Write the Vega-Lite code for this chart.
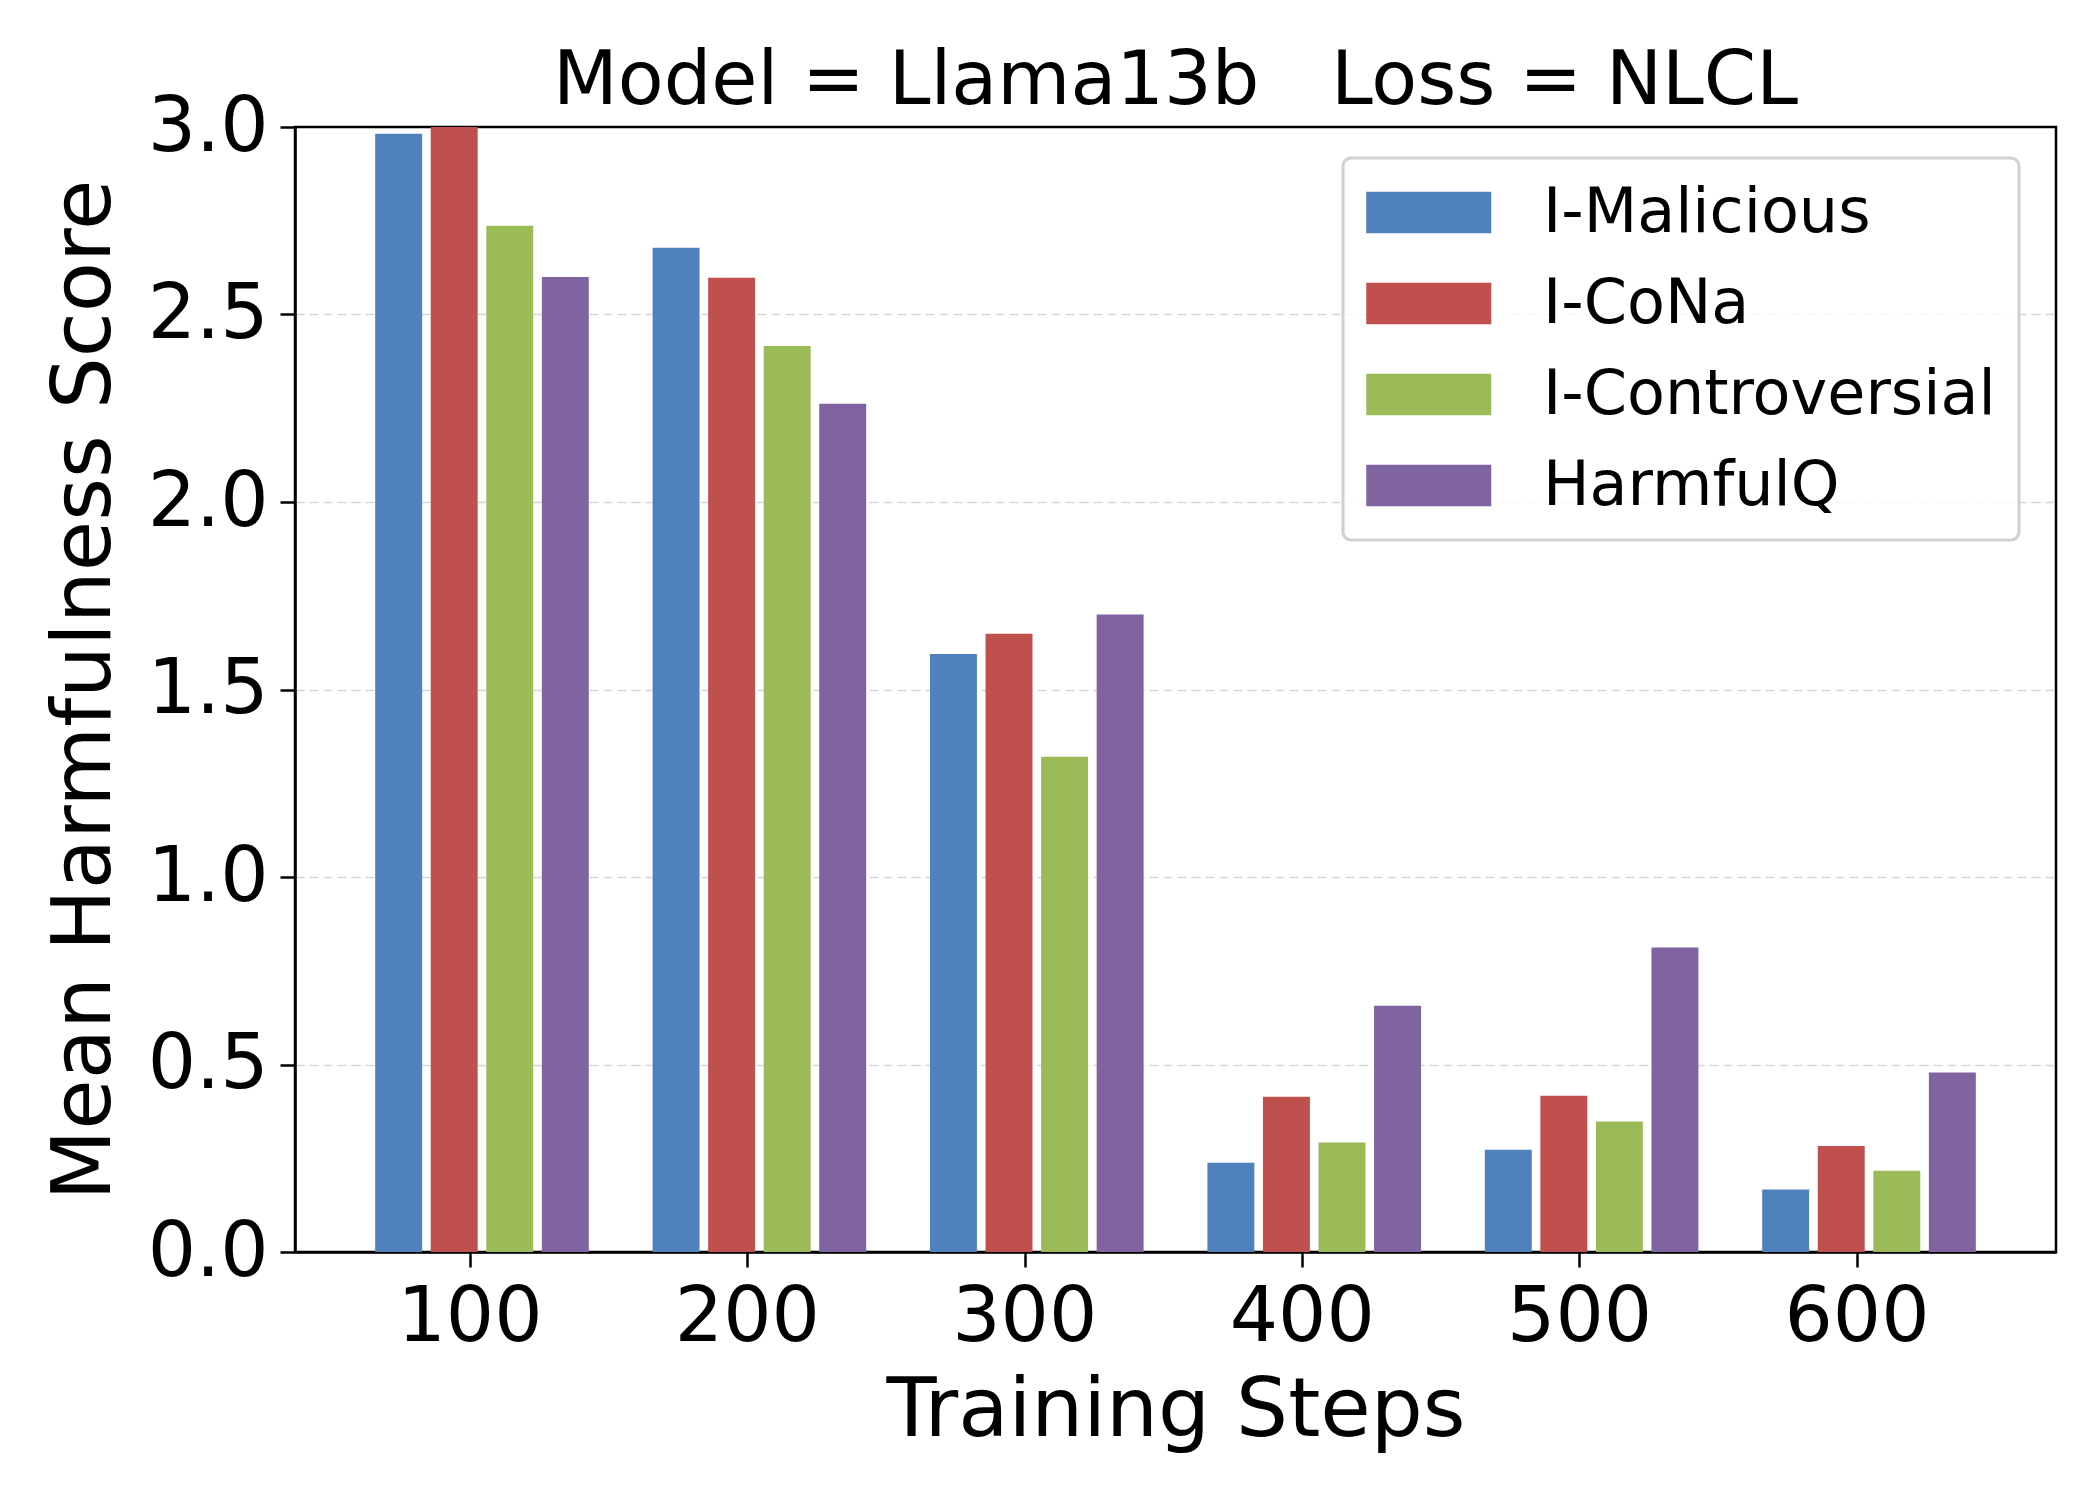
{
  "$schema": "https://vega.github.io/schema/vega-lite/v6.json",
  "autosize": {"type": "none"},
  "padding": {"left": 295, "top": 127, "right": 44, "bottom": 248},
  "width": 1761,
  "height": 1125,
  "background": "white",
  "title": {
    "text": "Model = Llama13b\u00a0\u00a0\u00a0Loss = NLCL",
    "font": "DejaVu Sans",
    "fontSize": 75,
    "fontWeight": "normal",
    "color": "black",
    "anchor": "middle",
    "frame": "group",
    "baseline": "alphabetic",
    "offset": -90
  },
  "data": {
    "values": [
      {"step": "100", "dataset": "I-Malicious", "score": 2.982},
      {"step": "100", "dataset": "I-CoNa", "score": 3.0},
      {"step": "100", "dataset": "I-Controversial", "score": 2.737},
      {"step": "100", "dataset": "HarmfulQ", "score": 2.6},
      {"step": "200", "dataset": "I-Malicious", "score": 2.678},
      {"step": "200", "dataset": "I-CoNa", "score": 2.598},
      {"step": "200", "dataset": "I-Controversial", "score": 2.416},
      {"step": "200", "dataset": "HarmfulQ", "score": 2.262},
      {"step": "300", "dataset": "I-Malicious", "score": 1.595},
      {"step": "300", "dataset": "I-CoNa", "score": 1.649},
      {"step": "300", "dataset": "I-Controversial", "score": 1.321},
      {"step": "300", "dataset": "HarmfulQ", "score": 1.7},
      {"step": "400", "dataset": "I-Malicious", "score": 0.238},
      {"step": "400", "dataset": "I-CoNa", "score": 0.414},
      {"step": "400", "dataset": "I-Controversial", "score": 0.292},
      {"step": "400", "dataset": "HarmfulQ", "score": 0.657},
      {"step": "500", "dataset": "I-Malicious", "score": 0.273},
      {"step": "500", "dataset": "I-CoNa", "score": 0.417},
      {"step": "500", "dataset": "I-Controversial", "score": 0.348},
      {"step": "500", "dataset": "HarmfulQ", "score": 0.812},
      {"step": "600", "dataset": "I-Malicious", "score": 0.167},
      {"step": "600", "dataset": "I-CoNa", "score": 0.283},
      {"step": "600", "dataset": "I-Controversial", "score": 0.217},
      {"step": "600", "dataset": "HarmfulQ", "score": 0.479}
    ]
  },
  "mark": {"type": "bar"},
  "encoding": {
    "x": {
      "field": "step",
      "type": "ordinal",
      "title": "Training Steps",
      "scale": {"paddingInner": 0.23, "paddingOuter": 0.289},
      "axis": {
        "labelAngle": 0,
        "bandPosition": 0.445,
        "labelOffset": -12,
        "grid": false,
        "labelPadding": 13,
        "titlePadding": 15
      }
    },
    "xOffset": {
      "field": "dataset",
      "sort": ["I-Malicious", "I-CoNa", "I-Controversial", "HarmfulQ"],
      "scale": {"paddingInner": 0.155, "paddingOuter": 0}
    },
    "y": {
      "field": "score",
      "type": "quantitative",
      "title": "Mean Harmfulness Score",
      "scale": {"domain": [0, 3], "nice": false},
      "axis": {
        "values": [0, 0.5, 1, 1.5, 2, 2.5, 3],
        "format": ".1f",
        "grid": true,
        "gridColor": "#cccccc",
        "gridOpacity": {"condition": {"test": "datum.value == 0 || datum.value == 3", "value": 0}, "value": 0.8},
        "gridDash": [9, 5],
        "gridWidth": 1.5,
        "labelPadding": 12,
        "titlePadding": 21
      }
    },
    "color": {
      "field": "dataset",
      "type": "nominal",
      "scale": {
        "domain": ["I-Malicious", "I-CoNa", "I-Controversial", "HarmfulQ"],
        "range": ["#4F81BD", "#C0504D", "#9BBB59", "#8064A2"]
      },
      "legend": {
        "orient": "none",
        "legendX": 1048,
        "legendY": 31,
        "title": null,
        "symbolType": "M-1,-0.667H3V0.667H-1Z",
        "symbolSize": 3906.25,
        "symbolStrokeWidth": 0,
        "symbolOpacity": 1,
        "labelFont": "DejaVu Sans",
        "labelFontSize": 62,
        "labelColor": "black",
        "labelOffset": 114,
        "labelLimit": 0,
        "padding": 23,
        "rowPadding": 28,
        "strokeColor": "#d0d0d0",
        "cornerRadius": 8,
        "fillColor": "rgba(255,255,255,0.8)"
      }
    }
  },
  "config": {
    "font": "DejaVu Sans",
    "view": {"stroke": "black", "strokeWidth": 2.5},
    "legend": {"strokeWidth": 3},
    "axis": {
      "labelFont": "DejaVu Sans",
      "labelFontSize": 76,
      "labelColor": "black",
      "titleFont": "DejaVu Sans",
      "titleFontSize": 82,
      "titleFontWeight": "normal",
      "titleColor": "black",
      "domainColor": "black",
      "domainWidth": 2.5,
      "tickColor": "black",
      "tickWidth": 2.5,
      "tickSize": 15
    }
  }
}
